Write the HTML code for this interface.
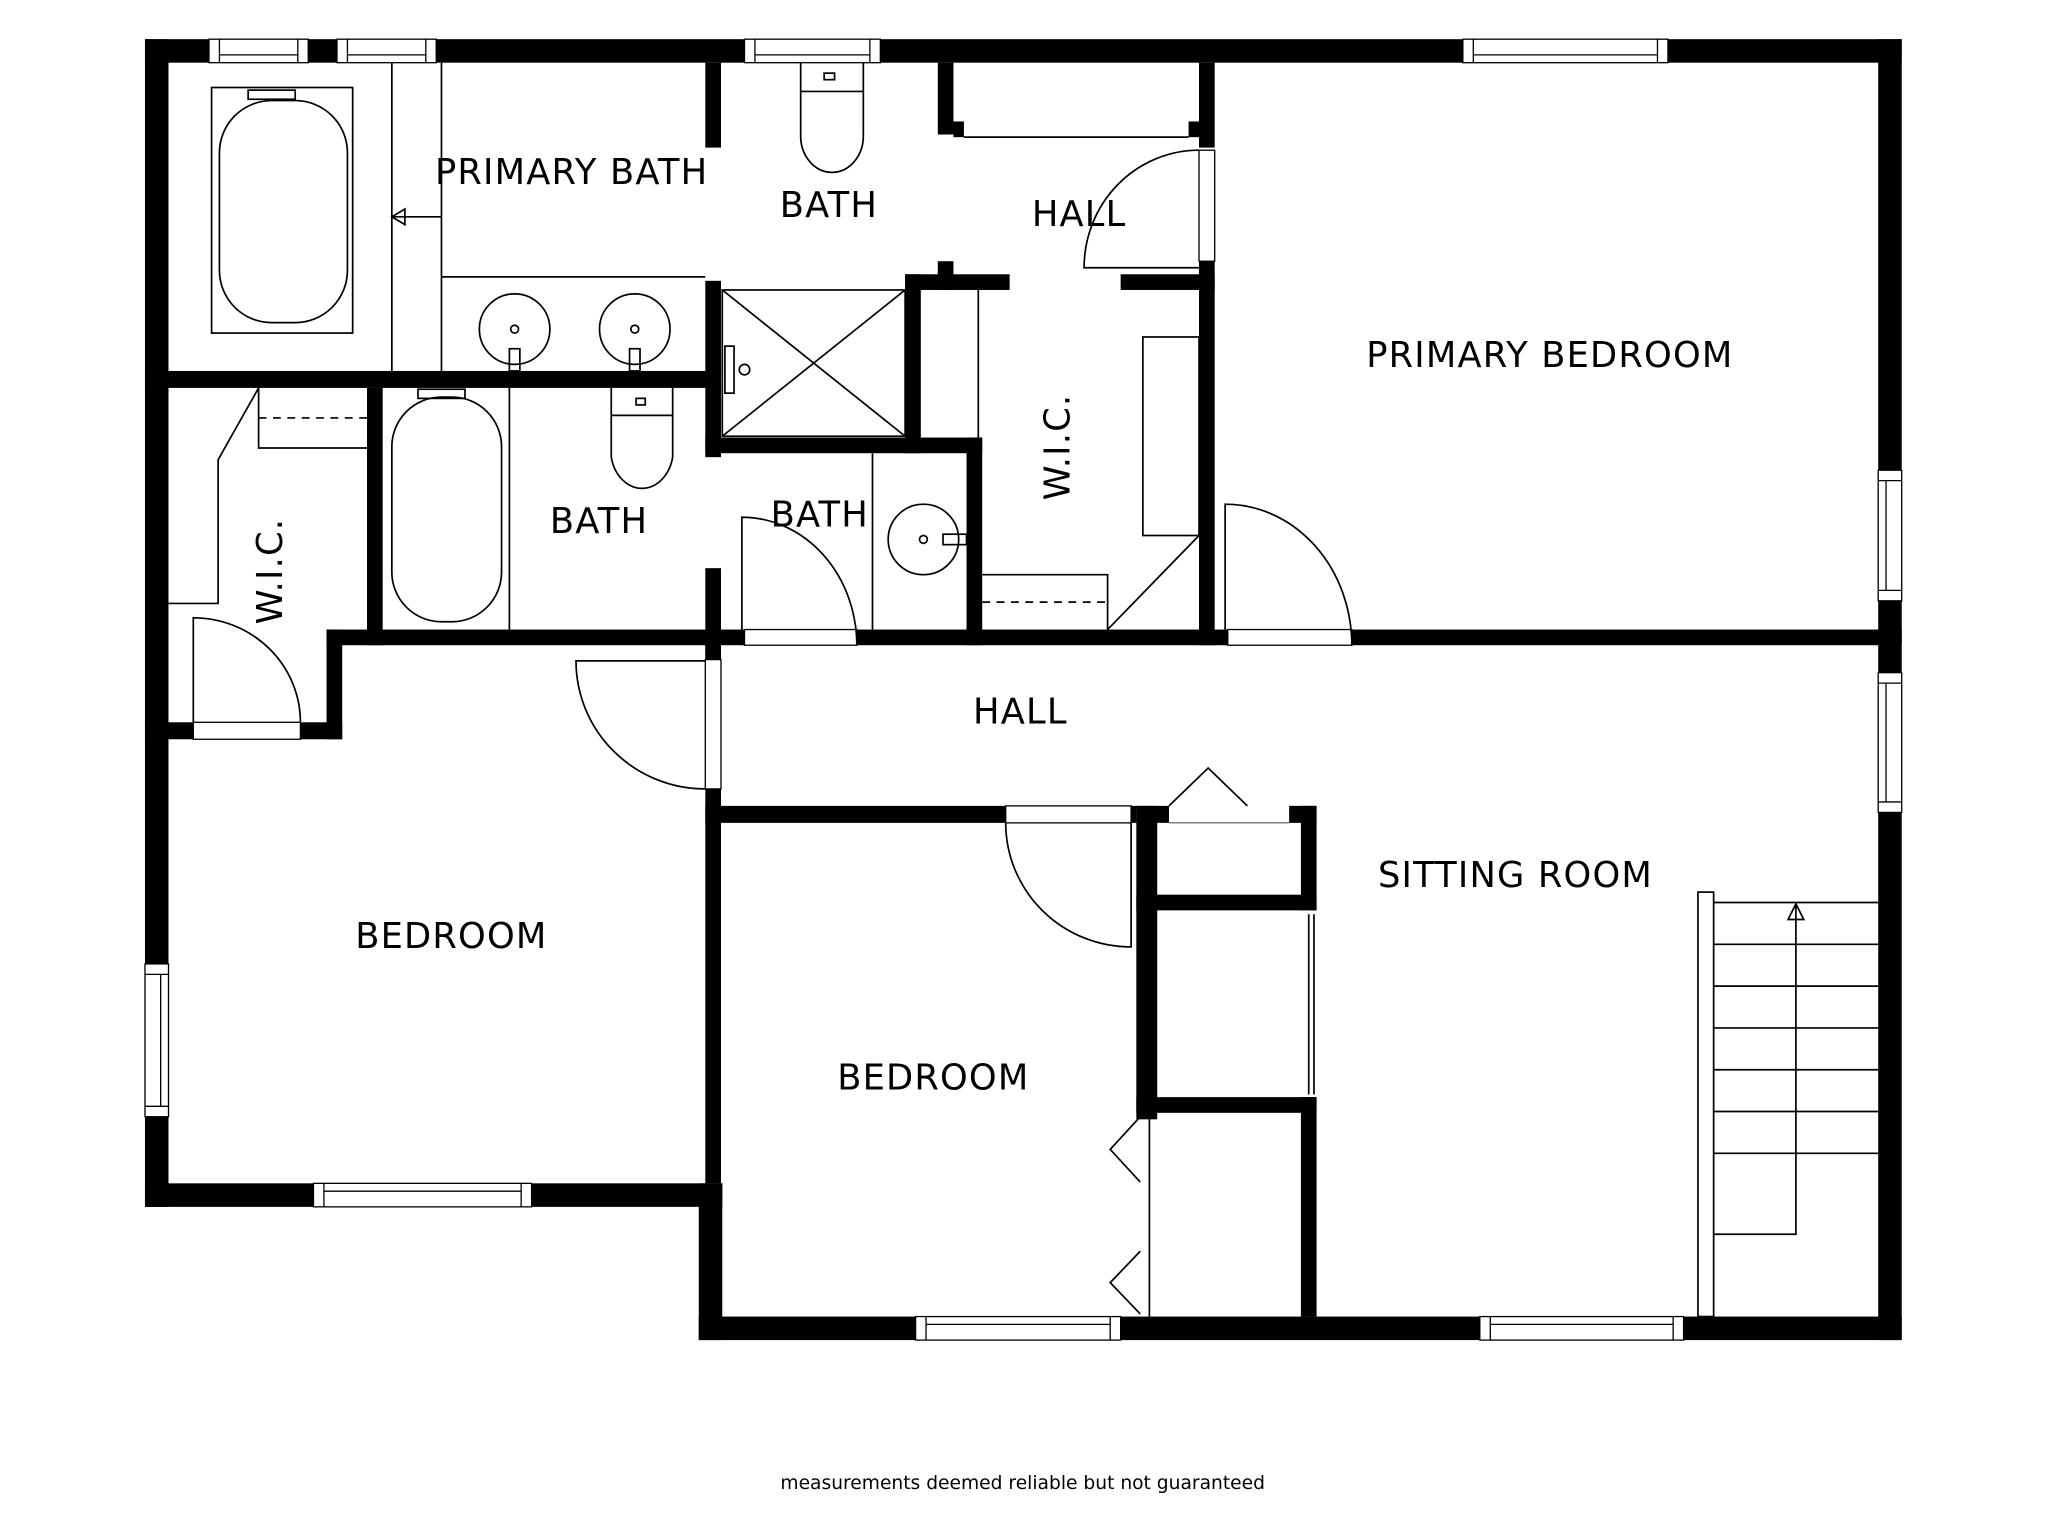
<!DOCTYPE html>
<html><head><meta charset="utf-8"><style>
html,body{margin:0;padding:0;background:#fff;}
svg{display:block;}
text{font-family:"DejaVu Sans","Liberation Sans",sans-serif;fill:#000;}
</style></head><body>
<svg width="2048" height="1536" viewBox="0 0 1568 1176" xmlns="http://www.w3.org/2000/svg">
<rect width="1568" height="1176" fill="#fff"/>
<g fill="#000">
<rect x="111" y="30" width="1345" height="18"/>
<rect x="111" y="30" width="18" height="894"/>
<rect x="111" y="906" width="442" height="18"/>
<rect x="535" y="906" width="18" height="120"/>
<rect x="535" y="1008" width="921" height="18"/>
<rect x="1438" y="30" width="18" height="996"/>
<rect x="540" y="48" width="12" height="65"/>
<rect x="540" y="215" width="12" height="135"/>
<rect x="540" y="435" width="12" height="71"/>
<rect x="111" y="284" width="441" height="13"/>
<rect x="281" y="297" width="12" height="197"/>
<rect x="250" y="482" width="1206" height="12"/>
<rect x="250" y="482" width="12" height="84"/>
<rect x="111" y="553" width="151" height="13"/>
<rect x="540" y="494" width="12" height="11"/>
<rect x="540" y="604" width="12" height="302"/>
<rect x="540" y="617" width="330" height="13"/>
<rect x="870" y="617" width="16" height="240"/>
<rect x="870" y="617" width="25" height="13"/>
<rect x="987" y="617" width="21" height="13"/>
<rect x="996" y="617" width="12" height="80"/>
<rect x="870" y="685" width="138" height="12"/>
<rect x="870" y="840" width="138" height="12"/>
<rect x="996" y="840" width="12" height="168"/>
<rect x="718" y="48" width="12" height="55"/>
<rect x="718" y="200" width="12" height="22"/>
<rect x="693" y="210" width="80" height="12"/>
<rect x="858" y="210" width="72" height="12"/>
<rect x="693" y="210" width="12" height="137"/>
<rect x="540" y="335" width="212" height="12"/>
<rect x="740" y="335" width="12" height="159"/>
<rect x="918" y="48" width="12" height="65"/>
<rect x="918" y="200" width="12" height="294"/>
<rect x="730" y="93" width="8" height="12"/>
<rect x="910" y="93" width="8" height="12"/>
</g>
<g fill="#fff" stroke="#000" stroke-width="1">
<rect x="148" y="553" width="82" height="13"/>
<rect x="570" y="482" width="86" height="12"/>
<rect x="940" y="482" width="95" height="12"/>
<rect x="540" y="505" width="12" height="99"/>
<rect x="770" y="617" width="96" height="13"/>
<rect x="918" y="115" width="12" height="85"/>
<rect x="160" y="30" width="76" height="18"/><line x1="168" y1="30" x2="168" y2="48"/><line x1="228" y1="30" x2="228" y2="48"/><line x1="168" y1="42" x2="228" y2="42"/>
<rect x="258" y="30" width="76" height="18"/><line x1="266" y1="30" x2="266" y2="48"/><line x1="326" y1="30" x2="326" y2="48"/><line x1="266" y1="42" x2="326" y2="42"/>
<rect x="570" y="30" width="104" height="18"/><line x1="578" y1="30" x2="578" y2="48"/><line x1="666" y1="30" x2="666" y2="48"/><line x1="578" y1="42" x2="666" y2="42"/>
<rect x="1120" y="30" width="157" height="18"/><line x1="1128" y1="30" x2="1128" y2="48"/><line x1="1269" y1="30" x2="1269" y2="48"/><line x1="1128" y1="42" x2="1269" y2="42"/>
<rect x="1438" y="360" width="18" height="100"/><line x1="1438" y1="368" x2="1456" y2="368"/><line x1="1438" y1="452" x2="1456" y2="452"/><line x1="1444" y1="368" x2="1444" y2="452"/>
<rect x="1438" y="515" width="18" height="107"/><line x1="1438" y1="523" x2="1456" y2="523"/><line x1="1438" y1="614" x2="1456" y2="614"/><line x1="1444" y1="523" x2="1444" y2="614"/>
<rect x="111" y="738" width="18" height="117"/><line x1="111" y1="746" x2="129" y2="746"/><line x1="111" y1="847" x2="129" y2="847"/><line x1="123" y1="746" x2="123" y2="847"/>
<rect x="240" y="906" width="167" height="18"/><line x1="248" y1="906" x2="248" y2="924"/><line x1="399" y1="906" x2="399" y2="924"/><line x1="248" y1="912" x2="399" y2="912"/>
<rect x="701" y="1008" width="157" height="18"/><line x1="709" y1="1008" x2="709" y2="1026"/><line x1="850" y1="1008" x2="850" y2="1026"/><line x1="709" y1="1014" x2="850" y2="1014"/>
<rect x="1133" y="1008" width="156" height="18"/><line x1="1141" y1="1008" x2="1141" y2="1026"/><line x1="1281" y1="1008" x2="1281" y2="1026"/><line x1="1141" y1="1014" x2="1281" y2="1014"/>
</g>
<g fill="none" stroke="#000" stroke-width="1.3">
<path d="M148 553 V473 A82 80 0 0 1 230 553"/>
<path d="M540 506 H441 A99 98 0 0 0 540 604"/>
<path d="M568 494 V396 A88 98 0 0 1 656 494"/>
<path d="M938 494 V386 A97 108 0 0 1 1035 494"/>
<path d="M866 630 V725 A96 95 0 0 1 770 630"/>
<path d="M918 205 H830 A88 90 0 0 1 918 115"/>
<path d="M873 855 L850 880 L873 905 M873 958 L850 982 L873 1006"/>
<path d="M895 617 L925 588 L955 617"/>
<line x1="895" y1="630" x2="987" y2="630" stroke-width="0.6"/>
<line x1="880" y1="855" x2="880" y2="1008"/>
<line x1="1002" y1="700" x2="1002" y2="838"/><line x1="1006" y1="700" x2="1006" y2="838"/>
<line x1="738" y1="105" x2="910" y2="105"/>
<line x1="300" y1="48" x2="300" y2="284"/><line x1="338" y1="48" x2="338" y2="284"/>
<line x1="300" y1="166" x2="338" y2="166"/><path d="M310 160 L300 166 L310 172 Z"/>
<rect x="162" y="67" width="108" height="188"/>
<rect x="168" y="77" width="98" height="170" rx="40"/>
<rect x="190" y="69" width="36" height="7"/>
<line x1="338" y1="212" x2="540" y2="212"/>
<circle cx="394" cy="252" r="27"/><circle cx="394" cy="252" r="3"/><rect x="390" y="267" width="8" height="17"/>
<circle cx="486" cy="252" r="27"/><circle cx="486" cy="252" r="3"/><rect x="482" y="267" width="8" height="17"/>
<path d="M613 48 V70 H661 V48 M613 70 V104 A24 28 0 0 0 661 104 V70"/><rect x="631" y="56" width="8" height="5"/>
<rect x="553" y="222" width="140" height="112"/><path d="M553 222 L693 334 M693 222 L553 334"/>
<rect x="555" y="265" width="7" height="36"/><circle cx="570" cy="283" r="4"/>
<line x1="390" y1="297" x2="390" y2="482"/>
<rect x="300" y="304" width="84" height="172" rx="38"/>
<rect x="320" y="298" width="36" height="7"/>
<path d="M468 297 V318 H515 V297 M468 318 V350 A24 30 0 0 0 515 350 V318"/><rect x="487" y="305" width="7" height="5"/>
<path d="M129 462 H167 V352 L198 297 V343 H281"/>
<line x1="198" y1="320" x2="281" y2="320" stroke-dasharray="6 5"/>
<line x1="668" y1="347" x2="668" y2="482"/>
<ellipse cx="707" cy="413" rx="27" ry="27"/><circle cx="707" cy="413" r="3"/><rect x="722" y="409" width="18" height="8"/>
<line x1="749" y1="222" x2="749" y2="335"/>
<rect x="875" y="258" width="43" height="152"/>
<path d="M752 440 H848 V482 M848 482 L918 410"/>
<line x1="752" y1="461" x2="848" y2="461" stroke-dasharray="6 5"/>
<rect x="1300" y="683" width="12" height="325"/>
<path d="M1312 691 H1438 M1312 723 H1438 M1312 755 H1438 M1312 787 H1438 M1312 819 H1438 M1312 851 H1438 M1312 883 H1438 M1312 945 H1375 V692"/>
<path d="M1369 704 L1375 692 L1381 704 Z"/>
</g>
<g font-size="27" letter-spacing="0.9">
<text x="333" y="141">PRIMARY BATH</text>
<text x="597" y="166">BATH</text>
<text x="790" y="173">HALL</text>
<text x="1046" y="281">PRIMARY BEDROOM</text>
<text x="421" y="408">BATH</text>
<text x="590" y="403">BATH</text>
<text x="745" y="554">HALL</text>
<text x="1055" y="679">SITTING ROOM</text>
<text x="272" y="726">BEDROOM</text>
<text x="641" y="834">BEDROOM</text>
<text transform="translate(216,478) rotate(-90)">W.I.C.</text>
<text transform="translate(819,383) rotate(-90)">W.I.C.</text>
</g>
<text x="783" y="1140" font-size="14.3" text-anchor="middle">measurements deemed reliable but not guaranteed</text>
</svg>
</body></html>
